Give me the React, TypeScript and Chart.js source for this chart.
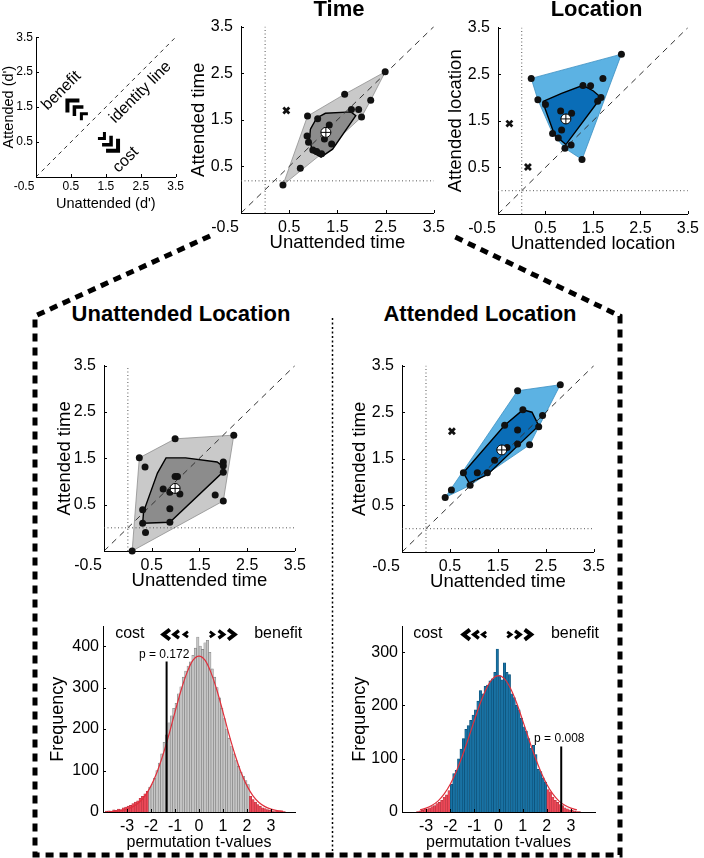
import React, { useEffect, useRef } from 'react';
import { Chart, registerables } from 'chart.js';

Chart.register(...registerables);

const FONT = "'Liberation Sans', Arial, Helvetica, sans-serif";

/* =================== DATA =================== */
type Pt = [number, number];

const D_MIN = -0.5;
const D_MAX = 3.5;
const D_X_TICKS = [-0.5, 0.5, 1.5, 2.5, 3.5];
const D_Y_TICKS = [0.5, 1.5, 2.5, 3.5];

// Time (attended vs unattended time)
const timePoints: Pt[] = [
  [0.37, 0.10], [0.73, 0.46], [0.88, 1.58], [0.87, 1.15], [0.90, 1.02], [0.99, 0.85],
  [1.07, 0.82], [1.17, 0.77], [1.09, 1.52], [1.33, 1.39], [1.23, 1.09], [1.38, 0.98],
  [1.65, 2.05], [1.79, 1.72], [1.94, 1.72], [2.00, 1.56], [2.19, 1.92], [2.49, 2.53],
];
const timeOutliers: Pt[] = [[0.44, 1.70]];
const timeMean: Pt = [1.26, 1.23];
const timeInner: Pt[] = [
  [0.94, 1.30], [1.07, 1.54], [1.25, 1.64], [1.78, 1.67], [1.88, 1.59],
  [1.40, 0.87], [1.16, 0.70], [0.99, 0.80], [0.92, 1.08],
];
const timeChance: Pt = [0, 0.19];

// Location
const locPoints: Pt[] = [
  [0.20, 2.41], [2.10, 2.93], [0.34, 1.95], [0.50, 1.85], [0.82, 1.71], [1.05, 1.66],
  [1.29, 2.26], [1.45, 2.25], [1.71, 2.41], [1.67, 2.00], [1.60, 1.92], [0.65, 1.23],
  [0.84, 1.30], [0.77, 1.13], [0.91, 0.91], [1.04, 0.98], [1.27, 0.67],
];
const locOutliers: Pt[] = [[-0.26, 1.44], [0.13, 0.51]];
const locMean: Pt = [0.93, 1.54];
const locInner: Pt[] = [
  [0.44, 1.91], [0.84, 2.09], [1.29, 2.26], [1.51, 2.14], [1.67, 2.00], [0.93, 0.99], [0.69, 1.20],
];
const locChance: Pt = [0, 0];

// Unattended location (time judgements)
const ulPoints: Pt[] = [
  [0.09, -0.5], [0.24, 1.51], [0.36, 1.31], [0.31, 0.39], [0.31, 0.10], [0.37, -0.10],
  [0.99, 1.92], [2.22, 2.00], [2.00, 1.42], [2.00, 1.34], [2.00, 1.20], [2.00, 0.58],
  [1.83, 0.71], [0.99, 1.11], [1.04, 1.11], [0.74, 0.84], [0.88, 0.77], [1.09, 0.73],
  [0.88, 0.41], [0.88, 0.12],
];
const ulOutliers: Pt[] = [];
const ulMean: Pt = [0.99, 0.85];
const ulInner: Pt[] = [
  [0.31, 0.10], [0.33, 0.35], [0.62, 1.18], [0.80, 1.51], [1.21, 1.51], [1.87, 1.42],
  [2.00, 1.32], [1.97, 1.18], [0.88, 0.12],
];
const ulChance: Pt = [0, 0];

// Attended location (time judgements)
const alPoints: Pt[] = [
  [0.40, 0.67], [0.53, 0.83], [0.92, 0.93], [0.78, 1.20], [1.07, 1.20], [1.28, 1.20],
  [1.43, 1.47], [1.64, 2.22], [1.91, 2.96], [2.02, 2.55], [1.91, 2.12], [1.69, 1.74],
  [1.91, 1.82], [2.16, 1.80], [2.35, 2.19], [2.43, 2.43], [2.80, 3.09],
];
const alOutliers: Pt[] = [[0.54, 2.09]];
const alMean: Pt = [1.58, 1.69];
const alInner: Pt[] = [
  [0.78, 1.20], [1.64, 2.22], [2.02, 2.55], [2.21, 2.50], [2.35, 2.21], [1.28, 1.16], [0.90, 0.98],
];
const alChance: Pt = [0, 0];

// Histograms of permutation t-values (bins of 0.1 from -4 to 4)
const T_TICKS = [-3, -2, -1, 0, 1, 2, 3];
const BIN_START = -4;
const BIN_WIDTH = 0.1;

const ulCounts = [
  0, 2, 3, 2, 5, 4, 7, 6, 10, 12,
  14, 16, 20, 24, 27, 33, 38, 44, 50, 60,
  66, 82, 100, 118, 140, 168, 186, 215, 232, 250,
  262, 285, 302, 325, 340, 352, 362, 378, 395, 422,
  400, 392, 408, 414, 385, 345, 325, 300, 275, 250,
  225, 200, 178, 158, 140, 124, 110, 96, 86, 76,
  66, 38, 30, 24, 18, 14, 10, 8, 6, 4,
  3, 1, 2, 3, 3, 1, 0, 0, 0, 0,
];
const ulFitT = [-3.75, -3.5, -3.25, -3, -2.75, -2.5, -2.25, -2, -1.75, -1.5, -1.25, -1, -0.75, -0.5, -0.25,
  0, 0.25, 0.5, 0.75, 1, 1.25, 1.5, 1.75, 2, 2.25, 2.5, 2.75, 3, 3.25, 3.5];
const ulFitY = [0.7, 1.6, 3.4, 7, 13, 23, 39, 63, 96, 138, 187, 241, 293, 336, 366,
  376, 366, 336, 293, 241, 187, 138, 96, 63, 39, 23, 13, 7, 3.4, 1.6];
const ulY_TICKS = [0, 100, 200, 300, 400];
const ulYMax = 447;
const ulObservedT = -1.35;
const ulObservedTop = 363;
const ulPText = 'p = 0.172';

const alCounts = [
  0, 0, 0, 0, 0, 0, 1, 2, 3, 5,
  6, 8, 10, 12, 16, 18, 22, 28, 32, 40,
  52, 72, 78, 100, 118, 138, 155, 162, 172, 182,
  192, 208, 228, 222, 236, 238, 246, 250, 262, 306,
  256, 248, 280, 262, 258, 222, 215, 200, 192, 176,
  160, 152, 138, 120, 125, 108, 80, 76, 64, 56,
  42, 38, 28, 22, 18, 14, 12, 8, 6, 4,
  3, 2, 1, 1, 0, 0, 0, 0, 0, 0,
];
const alFitT = [-3.25, -3, -2.75, -2.5, -2.25, -2, -1.75, -1.5, -1.25, -1, -0.75, -0.5, -0.25,
  0, 0.25, 0.5, 0.75, 1, 1.25, 1.5, 1.75, 2, 2.25, 2.5, 2.75, 3, 3.25];
const alFitY = [3.9, 7.2, 12.7, 21, 34, 52, 76, 105, 138, 172, 205, 232, 250,
  256, 250, 232, 205, 172, 138, 105, 76, 52, 34, 21, 12.7, 7.2, 3.9];
const alY_TICKS = [0, 100, 200, 300];
const alYMax = 348;
const alObservedT = 2.6;
const alObservedTop = 123;
const alPText = 'p = 0.008';

/* =================== HELPERS =================== */
function convexHull(pts: Pt[]): Pt[] {
  const p = [...pts].sort((a, b) => a[0] - b[0] || a[1] - b[1]);
  const cross = (o: Pt, a: Pt, b: Pt) => (a[0] - o[0]) * (b[1] - o[1]) - (a[1] - o[1]) * (b[0] - o[0]);
  const lower: Pt[] = [];
  for (const q of p) {
    while (lower.length >= 2 && cross(lower[lower.length - 2], lower[lower.length - 1], q) <= 0) lower.pop();
    lower.push(q);
  }
  const upper: Pt[] = [];
  for (const q of [...p].reverse()) {
    while (upper.length >= 2 && cross(upper[upper.length - 2], upper[upper.length - 1], q) <= 0) upper.pop();
    upper.push(q);
  }
  lower.pop();
  upper.pop();
  return lower.concat(upper);
}
const toXY = (a: Pt[]) => a.map(([x, y]) => ({ x, y }));
const closed = (a: Pt[]) => toXY([...a, a[0]]);
const fixedTicks = (vals: number[]) => (scale: any) => {
  scale.ticks = vals.map((v) => ({ value: v }));
};

const decorPlugin = {
  id: 'decor',
  afterDatasetsDraw(chart: any, _args: any, opts: any) {
    const { ctx, chartArea } = chart;
    const xs = chart.scales.x;
    const ys = chart.scales.y;
    ctx.save();
    if (opts.tickLen) {
      ctx.strokeStyle = '#000';
      ctx.lineWidth = 1;
      ctx.beginPath();
      xs.ticks.forEach((t: any) => {
        const p = Math.round(xs.getPixelForValue(t.value)) + 0.5;
        ctx.moveTo(p, chartArea.bottom);
        ctx.lineTo(p, chartArea.bottom - opts.tickLen);
      });
      ys.ticks.forEach((t: any) => {
        const p = Math.round(ys.getPixelForValue(t.value)) + 0.5;
        ctx.moveTo(chartArea.left, p);
        ctx.lineTo(chartArea.left + opts.tickLen, p);
      });
      ctx.stroke();
    }
    (opts.items || []).forEach((it: any) => {
      const px = xs.getPixelForValue(it.x);
      const py = ys.getPixelForValue(it.y);
      ctx.save();
      ctx.translate(px, py);
      if (it.rot) ctx.rotate((it.rot * Math.PI) / 180);
      ctx.fillStyle = '#000';
      ctx.strokeStyle = '#000';
      if (it.kind === 'text') {
        ctx.font = `${it.size}px ${FONT}`;
        ctx.textAlign = 'center';
        ctx.textBaseline = 'middle';
        ctx.fillText(it.text, 0, 0);
      } else if (it.kind === 'chev') {
        const s = it.dir === 'left' ? 1 : -1;
        ctx.lineWidth = it.lw;
        ctx.lineJoin = 'miter';
        ctx.beginPath();
        ctx.moveTo((s * it.w) / 2, -it.h / 2);
        ctx.lineTo((-s * it.w) / 2, 0);
        ctx.lineTo((s * it.w) / 2, it.h / 2);
        ctx.stroke();
      } else if (it.kind === 'corner') {
        const s = it.dir === 'ul' ? 1 : -1;
        ctx.lineWidth = it.lw;
        ctx.lineJoin = 'miter';
        ctx.beginPath();
        ctx.moveTo(0, s * it.arm);
        ctx.lineTo(0, 0);
        ctx.lineTo(s * it.arm, 0);
        ctx.stroke();
      }
      ctx.restore();
    });
    ctx.restore();
  },
};

interface Frame { L: number; T: number; R: number; B: number; W: number; H: number; pt: number; pr: number }
const boxOf = (f: Frame) => ({ x: f.L - f.W, y: f.T - f.pt, w: f.W + (f.R - f.L) + f.pr, h: f.pt + (f.B - f.T) + f.H });

function axisCommon(size: number, pad: number) {
  return {
    grid: { display: false, drawTicks: false },
    border: { display: true, color: '#000', width: 1 },
    ticks: { autoSkip: false, maxRotation: 0, minRotation: 0, padding: pad, color: '#000', font: { family: FONT, size } },
  };
}

function scatterConfig(o: any) {
  const f: Frame = o.frame;
  const outer = convexHull(o.points);
  const ax = axisCommon(o.tickSize, o.xTickPad);
  const ay = axisCommon(o.tickSize, o.yTickPad);
  const datasets: any[] = [];
  if (o.points.length) {
    datasets.push({ data: closed(outer), showLine: true, fill: 'shape', backgroundColor: o.light, borderColor: o.lightEdge, borderWidth: 0.8, pointRadius: 0, order: 10 });
    datasets.push({ data: closed(o.inner), showLine: true, fill: 'shape', backgroundColor: o.dark, borderColor: '#000', borderWidth: 1.4, pointRadius: 0, order: 9 });
  }
  datasets.push({ data: toXY([[D_MIN, D_MIN], [D_MAX, D_MAX]]), showLine: true, borderColor: '#333', borderWidth: 1, borderDash: o.dash, pointRadius: 0, order: 8 });
  if (o.chance) {
    datasets.push({ data: toXY([[o.chance[0], D_MIN], [o.chance[0], D_MAX]]), showLine: true, borderColor: '#555', borderWidth: 1, borderDash: [1, 2.5], pointRadius: 0, order: 7 });
    datasets.push({ data: toXY([[D_MIN, o.chance[1]], [D_MAX, o.chance[1]]]), showLine: true, borderColor: '#555', borderWidth: 1, borderDash: [1, 2.5], pointRadius: 0, order: 7 });
  }
  if (o.points.length) {
    datasets.push({ data: toXY(o.points), pointRadius: 3.5, backgroundColor: '#111', borderColor: '#111', borderWidth: 0, clip: false, order: 5 });
    datasets.push({ data: toXY(o.outliers), pointStyle: 'crossRot', pointRadius: 4.2, borderColor: '#111', borderWidth: 2.8, clip: false, order: 4 });
    datasets.push({ data: toXY([o.mean]), pointRadius: 5, backgroundColor: '#fff', borderColor: '#000', borderWidth: 1, order: 3 });
    datasets.push({ data: toXY([o.mean]), pointStyle: 'cross', pointRadius: 5, borderColor: '#000', borderWidth: 1, order: 2 });
  }
  return {
    type: 'scatter',
    data: { datasets },
    plugins: [decorPlugin],
    options: {
      responsive: false,
      animation: false,
      events: [],
      layout: { padding: { top: f.pt, right: f.pr, left: 0, bottom: 0 } },
      plugins: {
        legend: { display: false },
        tooltip: { enabled: false },
        decor: { tickLen: 3, items: o.items || [] },
      },
      scales: {
        x: {
          type: 'linear', min: D_MIN, max: D_MAX, offset: false,
          afterBuildTicks: fixedTicks(D_X_TICKS),
          afterFit: (s: any) => { s.height = f.H; },
          ...ax,
          ticks: { ...ax.ticks, callback: (v: any) => (v === -0.5 ? '-0.5\u2003\u2003' : String(v)) },
          title: { display: true, text: o.xTitle, color: '#000', padding: 0, font: { family: FONT, size: o.titleSize } },
        },
        y: {
          type: 'linear', min: D_MIN, max: D_MAX,
          afterBuildTicks: fixedTicks(D_Y_TICKS),
          afterFit: (s: any) => { s.width = f.W; },
          ...ay,
          ticks: { ...ay.ticks, callback: (v: any) => String(v) },
          title: { display: true, text: o.yTitle, color: '#000', padding: 0, font: { family: FONT, size: o.titleSize } },
        },
      },
    },
  };
}

const RED = '#ec4757';
const RED_EDGE = '#b8303c';

function histConfig(o: any) {
  const f: Frame = o.frame;
  const bars = o.counts.map((c: number, i: number) => ({ x: +(BIN_START + BIN_WIDTH * (i + 0.5)).toFixed(2), y: c }));
  const tail = (x: number) => x < -o.tail || x > o.tail;
  const ax = axisCommon(16, 5);
  const ay = axisCommon(16, 4);
  return {
    type: 'bar',
    data: {
      datasets: [
        { type: 'line', data: o.fitT.map((t: number, i: number) => ({ x: t, y: o.fitY[i] })), borderColor: '#e0303c', borderWidth: 1.2, pointRadius: 0, cubicInterpolationMode: 'monotone', order: 1 },
        { type: 'line', data: [{ x: o.obsT, y: 0 }, { x: o.obsT, y: o.obsTop }], borderColor: '#000', borderWidth: 2, pointRadius: 0, order: 0 },
        {
          type: 'bar', data: bars,
          backgroundColor: bars.map((b: any) => (tail(b.x) ? RED : o.fill)),
          borderColor: bars.map((b: any) => (tail(b.x) ? RED_EDGE : o.edge)),
          borderWidth: 0.6, barPercentage: 1, categoryPercentage: 1, order: 2,
        },
      ],
    },
    plugins: [decorPlugin],
    options: {
      responsive: false,
      animation: false,
      events: [],
      layout: { padding: { top: f.pt, right: f.pr, left: 0, bottom: 0 } },
      plugins: {
        legend: { display: false },
        tooltip: { enabled: false },
        decor: { tickLen: 3, items: o.items },
      },
      scales: {
        x: {
          type: 'linear', min: -4, max: 4, offset: false,
          afterBuildTicks: fixedTicks(T_TICKS),
          afterFit: (s: any) => { s.height = f.H; },
          ...ax,
          grid: { display: false, drawTicks: false, offset: false },
          title: { display: true, text: 'permutation t-values', color: '#000', padding: 0, font: { family: FONT, size: 16 } },
        },
        y: {
          type: 'linear', min: 0, max: o.yMax,
          afterBuildTicks: fixedTicks(o.yTicks),
          afterFit: (s: any) => { s.width = f.W; },
          ...ay,
          title: { display: true, text: 'Frequency', color: '#000', padding: 0, font: { family: FONT, size: 18 } },
        },
      },
    },
  };
}

/* =================== LAYOUT =================== */
const F_SCHEMA: Frame = { L: 36, T: 37, R: 176, B: 177, W: 36, H: 36, pt: 10, pr: 10 };
const F_TIME: Frame = { L: 241, T: 19, R: 436, B: 213, W: 53, H: 41, pt: 10, pr: 14 };
const F_LOC: Frame = { L: 498, T: 20, R: 691, B: 214, W: 53, H: 41, pt: 10, pr: 13 };
const F_UL: Frame = { L: 104, T: 358, R: 297, B: 551, W: 50, H: 41, pt: 10, pr: 14 };
const F_AL: Frame = { L: 402, T: 358, R: 596, B: 552, W: 53, H: 41, pt: 10, pr: 14 };
const F_HUL: Frame = { L: 103, T: 623, R: 295, B: 812, W: 56, H: 40, pt: 10, pr: 10 };
const F_HAL: Frame = { L: 402, T: 623, R: 595, B: 812, W: 53, H: 40, pt: 10, pr: 10 };

const GRAY = { light: '#c9c9c9', lightEdge: '#8f8f8f', dark: '#8c8c8c' };
const BLUE = { light: '#5cb2e3', lightEdge: '#3b8fc2', dark: '#0a6db7' };

const chevrons = (xs: number[], y: number, dirs: string[], sizes: number[][]) =>
  xs.map((x, i) => ({ kind: 'chev', x, y, dir: dirs[i], w: sizes[i][0], h: sizes[i][1], lw: sizes[i][2] }));
const BIG = [6.5, 10, 4];
const MED = [5, 7.5, 3.4];
const SML = [3.8, 5.5, 2.8];

const schemaConfig = scatterConfig({
  frame: F_SCHEMA, points: [], tickSize: 12, xTickPad: 2, yTickPad: 3, titleSize: 14.5,
  xTitle: "Unattended (d')", yTitle: "Attended (d')", dash: [4, 4],
  items: [
    { kind: 'text', x: 0.23, y: 1.97, text: 'benefit', size: 16, rot: -45 },
    { kind: 'text', x: 2.49, y: 1.92, text: 'identity line', size: 16, rot: -45 },
    { kind: 'text', x: 2.07, y: -0.01, text: 'cost', size: 16, rot: -45 },
    { kind: 'corner', x: 0.40, y: 1.69, dir: 'ul', arm: 12, lw: 4 },
    { kind: 'corner', x: 0.60, y: 1.50, dir: 'ul', arm: 9, lw: 3.5 },
    { kind: 'corner', x: 0.80, y: 1.31, dir: 'ul', arm: 6.5, lw: 3 },
    { kind: 'corner', x: 1.46, y: 0.60, dir: 'dr', arm: 6.5, lw: 3 },
    { kind: 'corner', x: 1.65, y: 0.42, dir: 'dr', arm: 9, lw: 3.5 },
    { kind: 'corner', x: 1.85, y: 0.25, dir: 'dr', arm: 12, lw: 4 },
  ],
});

const mainScatter = (frame: Frame, points: Pt[], outliers: Pt[], mean: Pt, inner: Pt[], chance: Pt, col: any, xTitle: string, yTitle: string) =>
  scatterConfig({ frame, points, outliers, mean, inner, chance, ...col, xTitle, yTitle, tickSize: 16, xTickPad: 5, yTickPad: 8, titleSize: 18.5, dash: [6, 5] });

const timeConfig = mainScatter(F_TIME, timePoints, timeOutliers, timeMean, timeInner, timeChance, GRAY, 'Unattended time', 'Attended time');
const locConfig = mainScatter(F_LOC, locPoints, locOutliers, locMean, locInner, locChance, BLUE, 'Unattended location', 'Attended location');
const ulConfig = mainScatter(F_UL, ulPoints, ulOutliers, ulMean, ulInner, ulChance, GRAY, 'Unattended time', 'Attended time');
const alConfig = mainScatter(F_AL, alPoints, alOutliers, alMean, alInner, alChance, BLUE, 'Unattended time', 'Attended time');

const hulConfig = histConfig({
  frame: F_HUL, counts: ulCounts, fitT: ulFitT, fitY: ulFitY, yMax: ulYMax, yTicks: ulY_TICKS,
  obsT: ulObservedT, obsTop: ulObservedTop, tail: 2.1, fill: '#c6c6c6', edge: '#7d7d7d',
  items: [
    { kind: 'text', x: -2.88, y: 430, text: 'cost', size: 16 },
    { kind: 'text', x: 3.3, y: 430, text: 'benefit', size: 16 },
    { kind: 'text', x: -1.45, y: 379, text: ulPText, size: 12 },
    ...chevrons([-1.35, -0.94, -0.54, 0.53, 0.92, 1.35], 428, ['left', 'left', 'left', 'right', 'right', 'right'], [BIG, MED, SML, SML, MED, BIG]),
  ],
});
const halConfig = histConfig({
  frame: F_HAL, counts: alCounts, fitT: alFitT, fitY: alFitY, yMax: alYMax, yTicks: alY_TICKS,
  obsT: alObservedT, obsTop: alObservedTop, tail: 2.0, fill: '#1872a4', edge: '#0c4d73',
  items: [
    { kind: 'text', x: -2.93, y: 335, text: 'cost', size: 16 },
    { kind: 'text', x: 3.17, y: 335, text: 'benefit', size: 16 },
    { kind: 'text', x: 2.52, y: 137, text: alPText, size: 12 },
    ...chevrons([-1.32, -0.92, -0.59, 0.44, 0.79, 1.22], 333, ['left', 'left', 'left', 'right', 'right', 'right'], [BIG, MED, SML, SML, MED, BIG]),
  ],
});

/* =================== COMPONENTS =================== */
function ChartCanvas({ frame, config }: { frame: Frame; config: any }) {
  const ref = useRef<HTMLCanvasElement>(null);
  const b = boxOf(frame);
  useEffect(() => {
    const chart = new Chart(ref.current as HTMLCanvasElement, config);
    return () => chart.destroy();
  }, []);
  return (
    <canvas
      ref={ref}
      width={b.w}
      height={b.h}
      style={{ position: 'absolute', left: b.x, top: b.y, width: b.w, height: b.h }}
    />
  );
}

function Title({ text, cx, baseline }: { text: string; cx: number; baseline: number }) {
  return (
    <div
      style={{
        position: 'absolute', left: cx, top: baseline - 18.6, transform: 'translateX(-50%)',
        font: `bold 22px ${FONT}`, lineHeight: '22px', whiteSpace: 'nowrap', color: '#000',
      }}
    >
      {text}
    </div>
  );
}

export default function App() {
  return (
    <div style={{ position: 'absolute', left: 0, top: 0, width: 704, height: 858, background: '#fff', overflow: 'hidden', fontFamily: FONT }}>
      <svg width={704} height={858} style={{ position: 'absolute', left: 0, top: 0 }}>
        <path d="M210 236 L35 316 L35 855 L620 855 L620 316 L453 236" fill="none" stroke="#000" strokeWidth={5} strokeDasharray="8 6" />
        <line x1={332.5} y1={318} x2={332.5} y2={855} stroke="#000" strokeWidth={1.5} strokeDasharray="2 2.5" />
      </svg>
      <ChartCanvas frame={F_SCHEMA} config={schemaConfig} />
      <ChartCanvas frame={F_TIME} config={timeConfig} />
      <ChartCanvas frame={F_LOC} config={locConfig} />
      <ChartCanvas frame={F_UL} config={ulConfig} />
      <ChartCanvas frame={F_AL} config={alConfig} />
      <ChartCanvas frame={F_HUL} config={hulConfig} />
      <ChartCanvas frame={F_HAL} config={halConfig} />
      <Title text="Time" cx={339} baseline={16.7} />
      <Title text="Location" cx={596.5} baseline={16.5} />
      <Title text="Unattended Location" cx={181} baseline={322} />
      <Title text="Attended Location" cx={480} baseline={322} />
    </div>
  );
}
